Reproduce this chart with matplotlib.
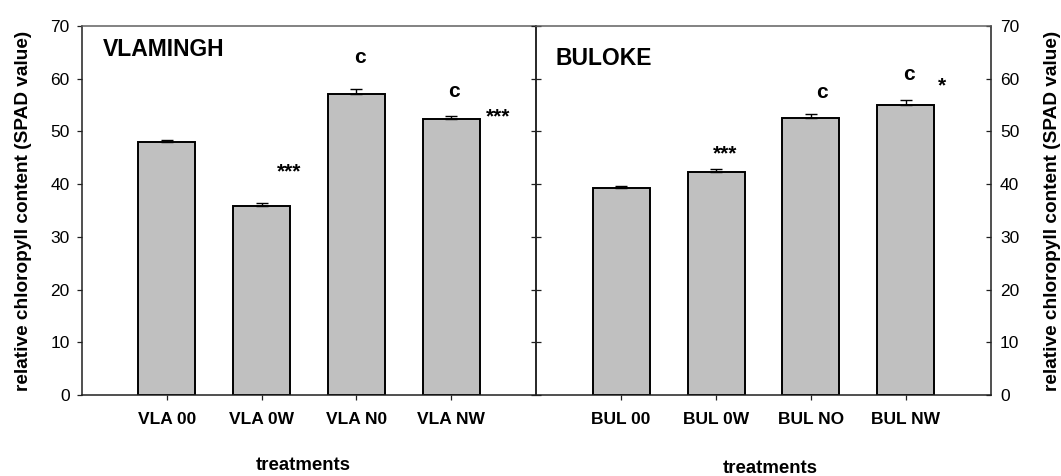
import matplotlib
matplotlib.use("Agg")
import matplotlib.pyplot as plt
import numpy as np

plt.rcParams['font.family'] = ['Liberation Sans', 'DejaVu Sans']

# ---- data ----
vla_labels = ["VLA 00", "VLA 0W", "VLA N0", "VLA NW"]
vla_means = [47.9, 35.9, 57.1, 52.4]
vla_err = [0.5, 0.5, 0.9, 0.5]

bul_labels = ["BUL 00", "BUL 0W", "BUL NO", "BUL NW"]
bul_means = [39.2, 42.3, 52.5, 55.0]
bul_err = [0.5, 0.5, 0.8, 0.9]

yticks = [0, 10, 20, 30, 40, 50, 60, 70]
ylabel = "relative chloropyll content (SPAD value)"
xlabel = "treatments"

# annotations: (text, x, y, size)
vla_notes = [("c", 3.04, 63.05, 15), ("c", 4.03, 56.6, 15),
             ("***", 2.295, 41.2, 15), ("***", 4.49, 51.8, 15)]
bul_notes = [("c", 3.11, 56.3, 15), ("c", 4.03, 59.8, 15),
             ("***", 2.10, 44.7, 15), ("*", 4.38, 57.6, 15)]

W, H = 1061, 476
fig = plt.figure(figsize=(W / 100, H / 100), dpi=100)

x0, x1, x2 = 82, 536, 991
ytop, ybot = 26, 395
ax1 = fig.add_axes([x0 / W, (H - ybot) / H, (x1 - x0) / W, (ybot - ytop) / H])
ax2 = fig.add_axes([x1 / W, (H - ybot) / H, (x2 - x1) / W, (ybot - ytop) / H])

spine_col = '#202020'
pos = np.arange(1, 5)

for ax, labels, means, err, name, notes in [
        (ax1, vla_labels, vla_means, vla_err, "VLAMINGH", vla_notes),
        (ax2, bul_labels, bul_means, bul_err, "BULOKE", bul_notes)]:
    ax.bar(pos, means, width=0.6, color='#c0c0c0', edgecolor='black',
           linewidth=1.4, zorder=2)
    ax.errorbar(pos, means, yerr=[np.zeros(4), err], fmt='none',
                ecolor='black', elinewidth=1.0, capsize=4.5, capthick=1.0, zorder=3)
    ax.set_xlim(0.105, 4.895)
    ax.set_ylim(0, 70)
    ax.set_xticks(pos)
    ax.set_xticklabels(labels, fontsize=12.5, fontweight='bold')
    ax.tick_params(axis='x', direction='out', length=3.6, width=0.9,
                   pad=9, color=spine_col)
    ax.set_yticks(yticks)
    for s in ax.spines.values():
        s.set_color(spine_col)
        s.set_linewidth(1.1)
    ax.spines['top'].set_color('#606060')
    ax.text(0.32 if ax is ax1 else 0.31, 65.6 if ax is ax1 else 63.9, name,
            fontsize=16.5, fontweight='bold', ha='left', va='center')
    for t, xx, yy, fs in notes:
        ax.text(xx, yy, t, fontsize=fs, fontweight='bold', ha='center', va='baseline')
    ax.set_xlabel(xlabel, fontsize=13.4, fontweight='bold')
    ax.set_ylabel(ylabel, fontsize=13.7, fontweight='bold')

# left panel y axis
ax1.yaxis.tick_left()
ax1.tick_params(axis='y', direction='out', length=3.6, width=0.9, pad=5.3,
                labelsize=12.5, color=spine_col)
ax1.spines['right'].set_visible(False)
ax1.xaxis.set_label_coords(0.487, -0.192)
ax1.xaxis.label.set_va('center')
ax1.yaxis.set_label_coords(-0.129, 0.498)
ax1.yaxis.label.set_va('center')

# right panel y axis
ax2.yaxis.tick_right()
ax2.yaxis.set_label_position('right')
ax2.tick_params(axis='y', direction='in', length=3.6, width=0.9, pad=6.5,
                labelsize=12.5, color=spine_col)
ax2.xaxis.set_label_coords(0.514, -0.2)
ax2.xaxis.label.set_va('center')
ax2.yaxis.set_label_coords(1.135, 0.498)
ax2.yaxis.label.set_rotation(90)
ax2.yaxis.label.set_va('center')
ax2.yaxis.label.set_ha('center')

sec = ax2.secondary_yaxis('left')
sec.set_yticks(yticks)
sec.tick_params(axis='y', direction='inout', length=7.2, width=0.9,
                labelleft=False, color=spine_col)
sec.spines['left'].set_color(spine_col)
sec.spines['left'].set_linewidth(1.1)

fig.savefig("out.png", dpi=100)
